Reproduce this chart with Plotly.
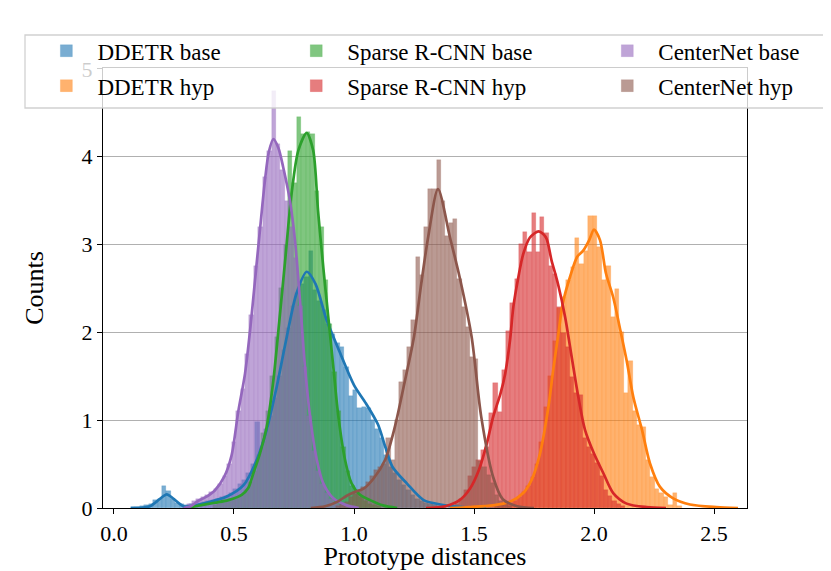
import numpy as np
import plotly.graph_objects as go

# histogram bins: left-most bin centre, bin width, bar heights
ddetr_base_start, ddetr_base_w = 0.08, 0.0185
ddetr_base_h = [0.01, 0.01, 0.02, 0.03, 0.05, 0.09, 0.1, 0.25, 0.19, 0.1, 0.06, 0.04,
                0.03, 0.04, 0.05, 0.06, 0.07, 0.08, 0.09, 0.1, 0.12, 0.14, 0.17, 0.22,
                0.27, 0.32, 0.4, 0.5, 0.98, 0.7, 0.9, 1.05, 1.25, 1.5, 1.8, 2.05, 2.3,
                2.45, 2.55, 2.63, 2.93, 2.48, 2.36, 2.25, 2.1, 1.98, 1.88, 1.83, 1.6,
                1.27, 1.34, 1.14, 1.15, 1.14, 1.0, 0.9, 0.8, 0.6, 0.47, 0.4, 0.32, 0.26,
                0.2, 0.15, 0.1, 0.08, 0.06, 0.04, 0.03, 0.02, 0.01]

ddetr_hyp_start, ddetr_hyp_w = 1.597, 0.0185
ddetr_hyp_h = [0.02, 0.03, 0.05, 0.06, 0.08, 0.12, 0.18, 0.25, 0.35, 0.5, 0.75, 1.15,
               1.5, 1.9, 2.28, 2.4, 2.6, 2.74, 3.07, 2.78, 2.93, 3.33, 3.33, 2.97, 2.6,
               2.76, 2.17, 2.49, 2.0, 1.31, 1.67, 1.1, 0.95, 0.92, 0.55, 0.35, 0.22,
               0.17, 0.12, 0.03, 0.17, 0.02]

sparse_base_start, sparse_base_w = 0.42, 0.0185
sparse_base_h = [0.03, 0.05, 0.06, 0.08, 0.1, 0.12, 0.15, 0.2, 0.3, 0.42, 0.6, 0.85,
                 1.1, 1.5, 1.95, 2.5, 3.0, 4.07, 3.7, 4.45, 4.26, 4.28, 4.26, 3.61, 3.2,
                 2.6, 2.1, 1.55, 1.1, 0.7, 0.42, 0.25, 0.16, 0.12, 0.08, 0.05, 0.03, 0.02]

sparse_hyp_start, sparse_hyp_w = 1.43, 0.0177
sparse_hyp_h = [0.05, 0.1, 0.2, 0.36, 0.47, 0.55, 0.66, 0.7, 1.08, 1.42, 1.09, 1.57,
                2.02, 2.33, 2.61, 3.01, 3.14, 2.91, 3.36, 2.91, 3.31, 3.13, 2.76, 2.67,
                2.29, 1.99, 1.83, 1.49, 1.31, 1.29, 0.8, 0.7, 0.62, 0.51, 0.36, 0.21,
                0.14, 0.08, 0.04, 0.02]

centernet_base_start, centernet_base_w = 0.296, 0.0185
centernet_base_h = [0.02, 0.05, 0.08, 0.1, 0.13, 0.15, 0.18, 0.22, 0.27, 0.36, 0.5,
                    0.75, 1.1, 1.35, 1.75, 2.2, 2.75, 3.2, 3.77, 4.07, 4.75, 4.15, 3.85,
                    3.5, 3.2, 2.85, 2.3, 1.6, 1.05, 0.65, 0.42, 0.27, 0.17, 0.1, 0.06,
                    0.03, 0.02]

centernet_hyp_start, centernet_hyp_w = 0.935, 0.0174
centernet_hyp_h = [0.02, 0.04, 0.07, 0.12, 0.17, 0.2, 0.24, 0.3, 0.36, 0.43, 0.47, 0.5,
                   0.8, 0.55, 1.0, 1.44, 1.57, 1.83, 2.14, 2.86, 2.65, 3.2, 3.63, 3.63,
                   3.96, 3.5, 3.1, 3.25, 3.29, 2.61, 2.29, 2.06, 1.72, 1.7, 0.53, 0.47,
                   0.38, 0.28, 0.15, 0.08, 0.04, 0.02]

# density curves
ddetr_base_kx = [0.07, 0.12, 0.15, 0.19, 0.22, 0.25, 0.29, 0.34, 0.4, 0.47, 0.54, 0.595,
                 0.636, 0.678, 0.72, 0.76, 0.803, 0.84, 0.886, 0.94, 1.0, 1.05, 1.1, 1.13,
                 1.16, 1.22, 1.29, 1.36, 1.45, 1.55]
ddetr_base_ky = [0, 0.005, 0.02, 0.1, 0.155, 0.1, 0.02, 0.03, 0.07, 0.13, 0.26, 0.55,
                 0.89, 1.38, 1.95, 2.44, 2.69, 2.55, 2.14, 1.78, 1.4, 1.19, 0.95, 0.7,
                 0.47, 0.28, 0.09, 0.04, 0.01, 0]

ddetr_hyp_kx = [1.4, 1.48, 1.58, 1.65, 1.705, 1.74, 1.775, 1.81, 1.83, 1.85, 1.87, 1.9,
                1.93, 1.955, 1.98, 2.0, 2.025, 2.05, 2.08, 2.11, 2.136, 2.164, 2.2, 2.233,
                2.275, 2.33, 2.4, 2.51, 2.6]
ddetr_hyp_ky = [0, 0.01, 0.03, 0.07, 0.17, 0.32, 0.62, 1.15, 1.57, 1.95, 2.33, 2.63,
                2.86, 2.93, 3.05, 3.17, 3.05, 2.67, 2.4, 2.02, 1.68, 1.26, 0.89, 0.51,
                0.24, 0.11, 0.04, 0.01, 0]

sparse_base_kx = [0.3, 0.34, 0.42, 0.476, 0.532, 0.56, 0.58, 0.608, 0.636, 0.664, 0.685,
                  0.7125, 0.74, 0.768, 0.803, 0.83, 0.85, 0.872, 0.893, 0.914, 0.935,
                  0.9625, 0.99, 1.025, 1.067, 1.12, 1.18]
sparse_base_ky = [0, 0.02, 0.06, 0.09, 0.15, 0.23, 0.39, 0.62, 0.92, 1.45, 2.02, 2.8,
                  3.58, 4.07, 4.27, 4.07, 3.39, 2.74, 2.17, 1.6, 1.04, 0.55, 0.28, 0.15,
                  0.09, 0.03, 0]

sparse_hyp_kx = [1.3, 1.38, 1.44, 1.483, 1.52, 1.553, 1.58, 1.61, 1.63, 1.65, 1.664,
                 1.685, 1.705, 1.733, 1.77, 1.8, 1.823, 1.85, 1.88, 1.907, 1.935, 1.9625,
                 2.0, 2.04, 2.08, 2.136, 2.22, 2.3]
sparse_hyp_ky = [0, 0.02, 0.09, 0.22, 0.43, 0.73, 1.04, 1.3, 1.53, 1.91, 2.29, 2.63,
                 2.89, 3.08, 3.15, 3.08, 2.82, 2.55, 2.17, 1.72, 1.26, 0.89, 0.62, 0.39,
                 0.17, 0.05, 0.01, 0]

centernet_base_kx = [0.29, 0.32, 0.35, 0.38, 0.42, 0.46, 0.49, 0.518, 0.546, 0.567,
                     0.5875, 0.608, 0.629, 0.645, 0.664, 0.685, 0.705, 0.733, 0.754,
                     0.775, 0.796, 0.817, 0.845, 0.872, 0.914, 0.97, 1.02]
centernet_base_ky = [0, 0.02, 0.08, 0.12, 0.2, 0.36, 0.6, 1.1, 1.53, 2.02, 2.59, 3.16,
                     3.73, 4.05, 4.2, 4.1, 3.88, 3.5, 3.05, 2.36, 1.6, 1.04, 0.55, 0.28,
                     0.11, 0.03, 0]

centernet_hyp_kx = [0.82, 0.88, 0.93, 0.97, 1.0, 1.04, 1.08, 1.13, 1.17, 1.21, 1.25,
                    1.28, 1.31, 1.35, 1.4, 1.44, 1.49, 1.53, 1.58, 1.62, 1.68, 1.75]
centernet_hyp_ky = [0, 0.02, 0.07, 0.14, 0.18, 0.22, 0.33, 0.55, 0.92, 1.42, 1.95, 2.55,
                    3.1, 3.63, 3.08, 2.63, 1.95, 1.04, 0.35, 0.1, 0.02, 0]

names = ["DDETR base", "DDETR hyp", "Sparse R-CNN base", "Sparse R-CNN hyp",
         "CenterNet base", "CenterNet hyp"]
colors = ["#1f77b4", "#ff7f0e", "#2ca02c", "#d62728", "#9467bd", "#8c564b"]

hists = [
    (ddetr_base_start, ddetr_base_w, ddetr_base_h),
    (ddetr_hyp_start, ddetr_hyp_w, ddetr_hyp_h),
    (sparse_base_start, sparse_base_w, sparse_base_h),
    (sparse_hyp_start, sparse_hyp_w, sparse_hyp_h),
    (centernet_base_start, centernet_base_w, centernet_base_h),
    (centernet_hyp_start, centernet_hyp_w, centernet_hyp_h),
]
kdes = [
    (ddetr_base_kx, ddetr_base_ky),
    (ddetr_hyp_kx, ddetr_hyp_ky),
    (sparse_base_kx, sparse_base_ky),
    (sparse_hyp_kx, sparse_hyp_ky),
    (centernet_base_kx, centernet_base_ky),
    (centernet_hyp_kx, centernet_hyp_ky),
]
legend_ids = ["legend", "legend", "legend2", "legend2", "legend3", "legend3"]


def rgba(hex_color, a):
    h = hex_color.lstrip("#")
    r, g, b = int(h[0:2], 16), int(h[2:4], 16), int(h[4:6], 16)
    return f"rgba({r},{g},{b},{a})"


FONT = "Liberation Serif, Times New Roman, serif"

fig = go.Figure()

for i, (start, w, heights) in enumerate(hists):
    centers = start + w * np.arange(len(heights))
    fig.add_trace(go.Bar(
        x=centers, y=heights, width=w, name=names[i],
        marker=dict(color=rgba(colors[i], 0.6),
                    line=dict(color=rgba(colors[i], 0.35), width=0.5)),
        legend=legend_ids[i], legendgroup=names[i],
        hoverinfo="skip",
    ))

for i, (kx, ky) in enumerate(kdes):
    fig.add_trace(go.Scatter(
        x=kx, y=ky, mode="lines",
        line=dict(color=colors[i], width=2.7, shape="spline", smoothing=0.8),
        showlegend=False, hoverinfo="skip",
    ))

legend_common = dict(
    bgcolor="rgba(0,0,0,0)", borderwidth=0,
    font=dict(family=FONT, size=23, color="black"),
    xanchor="left", yanchor="top", traceorder="grouped",
    tracegroupgap=2, itemwidth=52,
)

# the page body has an 8px margin, so the figure is 8px smaller than the window
fig.update_layout(
    width=823, height=563,
    margin=dict(l=95, r=84, t=60, b=63, autoexpand=False),
    paper_bgcolor="white", plot_bgcolor="white",
    barmode="overlay", bargap=0,
    font=dict(family=FONT, size=22, color="black"),
    legend=dict(x=-0.105, y=1.088, **legend_common),
    legend2=dict(x=0.283, y=1.088, **legend_common),
    legend3=dict(x=0.766, y=1.088, **legend_common),
    shapes=[dict(
        type="rect", xref="paper", yref="paper",
        x0=-0.1211, x1=1.1227, y0=0.9091, y1=1.075,
        fillcolor="rgba(255,255,255,0.8)",
        line=dict(color="rgba(204,204,204,0.9)", width=1.3),
        layer="above",
    )],
)

fig.update_xaxes(
    range=[-0.0458, 2.6375],
    tickvals=[0, 0.5, 1.0, 1.5, 2.0, 2.5], tickformat=".1f",
    showgrid=False, zeroline=False,
    showline=True, linecolor="black", linewidth=1.2, mirror=True,
    ticks="outside", ticklen=5, tickwidth=1.2, tickcolor="black",
    automargin=True,
    title=dict(text="Prototype distances", standoff=10),
    tickfont=dict(size=22),
)
fig.update_yaxes(
    range=[0, 5.01],
    tickvals=[0, 1, 2, 3, 4, 5],
    showgrid=True, gridcolor="#b0b0b0", gridwidth=1.2, zeroline=False,
    showline=True, linecolor="black", linewidth=1.2, mirror=True,
    ticks="outside", ticklen=5, tickwidth=1.2, tickcolor="black",
    title=dict(text="Counts", standoff=30),
    tickfont=dict(size=22),
)

fig.write_html("out.html")
